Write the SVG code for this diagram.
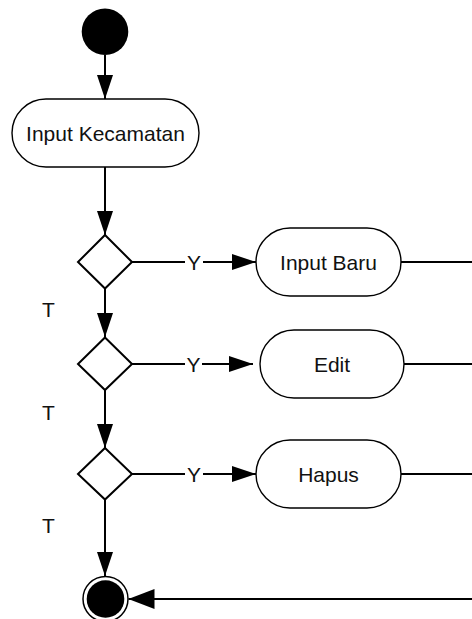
<svg xmlns="http://www.w3.org/2000/svg" width="472" height="619" viewBox="0 0 472 619">
<defs>
<style>
.node{fill:#fff;stroke:#000;stroke-width:1.4}
.dec{fill:#fff;stroke:#000;stroke-width:2}
.edge{fill:none;stroke:#000;stroke-width:2}
.lbl{font-family:"Liberation Sans",Arial,sans-serif;font-size:21px;fill:#111}
.mid{text-anchor:middle}
</style>
<marker id="ah" viewBox="0 0 24 16" refX="24" refY="8" markerWidth="24" markerHeight="16" markerUnits="userSpaceOnUse" orient="auto">
<path d="M0,0 L24,8 L0,16 Z" fill="#000"/>
</marker>
<marker id="ah2" viewBox="0 0 26 20" refX="26" refY="10" markerWidth="26" markerHeight="20" markerUnits="userSpaceOnUse" orient="auto">
<path d="M0,0 L26,10 L0,20 Z" fill="#000"/>
</marker>
</defs>
<rect width="472" height="619" fill="#fff"/>
<g id="connectors">
<line class="edge" x1="105" y1="55" x2="105" y2="99" marker-end="url(#ah)"/>
<line class="edge" x1="105" y1="167" x2="105" y2="235" marker-end="url(#ah)"/>
<line class="edge" x1="105" y1="288" x2="105" y2="337" marker-end="url(#ah)"/>
<line class="edge" x1="105" y1="390" x2="105" y2="448" marker-end="url(#ah)"/>
<line class="edge" x1="105" y1="499" x2="105" y2="576" marker-end="url(#ah)"/>
<line class="edge" x1="132" y1="262" x2="185" y2="262"/>
<line class="edge" x1="203" y1="262" x2="256" y2="262" marker-end="url(#ah)"/>
<line class="edge" x1="132" y1="364" x2="185" y2="364"/>
<line class="edge" x1="202" y1="364" x2="253" y2="364" marker-end="url(#ah)"/>
<line class="edge" x1="132" y1="474" x2="185" y2="474"/>
<line class="edge" x1="203" y1="474" x2="256" y2="474" marker-end="url(#ah)"/>
<line class="edge" x1="401" y1="262" x2="472" y2="262"/>
<line class="edge" x1="404" y1="364" x2="472" y2="364"/>
<line class="edge" x1="401" y1="474" x2="472" y2="474"/>
<line class="edge" x1="472" y1="599" x2="128.5" y2="599" marker-end="url(#ah2)"/>
<text class="lbl mid" x="194" y="269.5">Y</text>
<text class="lbl mid" x="193.5" y="371.5">Y</text>
<text class="lbl mid" x="194" y="481.5">Y</text>
<text class="lbl mid" x="48.5" y="317">T</text>
<text class="lbl mid" x="48.5" y="420">T</text>
<text class="lbl mid" x="48.5" y="533">T</text>
</g>
<g id="start">
<circle cx="105" cy="31.7" r="23.3" fill="#000"/>
</g>
<g id="input-kecamatan">
<rect class="node" x="12" y="99" width="187" height="68" rx="34" ry="34"/>
<text class="lbl mid" x="105.5" y="140.5">Input Kecamatan</text>
</g>
<g id="decision1">
<polygon class="dec" points="105,235 132,262 105,288.5 78,262"/>
</g>
<g id="decision2">
<polygon class="dec" points="105,337.5 132,364 105,390 78,364"/>
</g>
<g id="decision3">
<polygon class="dec" points="105,448 132,474 105,499.5 78,474"/>
</g>
<g id="input-baru">
<rect class="node" x="256" y="228" width="145" height="68" rx="34" ry="34"/>
<text class="lbl mid" x="328.5" y="269.5">Input Baru</text>
</g>
<g id="edit">
<rect class="node" x="260" y="330" width="144" height="68" rx="34" ry="34"/>
<text class="lbl mid" x="332" y="371.5">Edit</text>
</g>
<g id="hapus">
<rect class="node" x="256" y="440" width="145" height="68" rx="34" ry="34"/>
<text class="lbl mid" x="328.5" y="481.5">Hapus</text>
</g>
<g id="end">
<circle cx="105.5" cy="599" r="22.5" fill="#fff" stroke="#000" stroke-width="1.5"/>
<circle cx="105.5" cy="599" r="18.8" fill="#000"/>
</g>
</svg>
